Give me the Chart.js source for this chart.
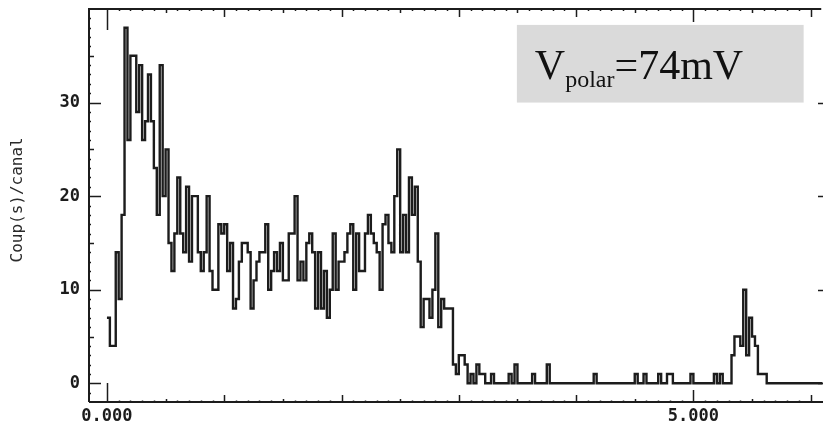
<!DOCTYPE html>
<html>
<head>
<meta charset="utf-8">
<script src="https://cdn.jsdelivr.net/npm/chart.js@4.4.1/dist/chart.umd.min.js"></script>
<style>
  html, body { margin: 0; padding: 0; background: #fff; }
  #wrap { width: 823px; height: 425px; }
</style>
</head>
<body>
<div id="wrap"><canvas id="chart" width="823" height="425"></canvas></div>
<script>
// spectrum: counts per channel, channel width
const channelStart = 0.0;
const channelWidth = 0.025;
const counts = [
    7, 4, 4, 14, 9, 18, 38, 26, 35, 35, 29, 34, 26, 28, 33, 28, 23, 18, 34, 20,
    25, 15, 12, 16, 22, 16, 14, 21, 13, 20, 20, 14, 12, 14, 20, 12, 10, 10, 17, 16,
    17, 12, 15, 8, 9, 13, 15, 15, 14, 8, 11, 13, 14, 14, 17, 10, 12, 14, 12, 15,
    11, 11, 16, 16, 20, 11, 13, 11, 15, 16, 14, 8, 14, 8, 12, 7, 10, 16, 10, 13,
    13, 14, 16, 17, 10, 16, 12, 12, 16, 18, 16, 15, 14, 10, 17, 18, 15, 14, 20, 25,
    14, 18, 14, 22, 18, 21, 13, 6, 9, 9, 7, 10, 16, 6, 9, 8, 8, 8, 2, 1,
    3, 3, 2, 0, 1, 0, 2, 1, 1, 0, 0, 1, 0, 0, 0, 0, 0, 1, 0, 2,
    0, 0, 0, 0, 0, 1, 0, 0, 0, 0, 2, 0, 0, 0, 0, 0, 0, 0, 0, 0,
    0, 0, 0, 0, 0, 0, 1, 0, 0, 0, 0, 0, 0, 0, 0, 0, 0, 0, 0, 0,
    1, 0, 0, 1, 0, 0, 0, 0, 1, 0, 0, 1, 1, 0, 0, 0, 0, 0, 0, 1,
    0, 0, 0, 0, 0, 0, 0, 1, 0, 1, 0, 0, 0, 3, 5, 5, 4, 10, 3, 7,
    5, 4, 1, 1, 1, 0, 0, 0, 0, 0, 0, 0, 0, 0, 0, 0, 0, 0, 0, 0,
    0, 0, 0, 0
];
const xTicks = [0, 5];
const yTicks = [0, 10, 20, 30];
const yTitle = 'Coup(s)/canal';
const noteMain = 'V';
const noteSub = 'polar';
const noteRest = '=74mV';

const points = counts.map((c, i) => ({ x: channelStart + i * channelWidth, y: c }));
points.push({ x: channelStart + counts.length * channelWidth, y: counts[counts.length - 1] });

const ink = '#1c1c1c';
const tickFont = { family: 'DejaVu Sans Mono', size: 17, weight: 'bold' };

// frame with inward ticks, drawn like the old plotter output
const frameTicks = {
    id: 'frameTicks',
    afterDatasetsDraw(chart) {
        const { ctx, chartArea: a, scales: { x, y } } = chart;
        ctx.save();
        ctx.strokeStyle = ink;
        ctx.lineWidth = 2;
        ctx.beginPath();
        ctx.moveTo(a.left, a.bottom);
        ctx.lineTo(a.left, a.top);
        ctx.lineTo(x.getPixelForValue(6.09), a.top);
        ctx.moveTo(a.left, a.bottom);
        ctx.lineTo(a.right, a.bottom);
        ctx.stroke();

        ctx.lineWidth = 1.5;
        ctx.beginPath();
        for (let k = 0; k <= 60; k++) {
            const px = Math.round(x.getPixelForValue(k / 10)) + 0.5;
            let lb = 1.5, lt = 2;
            if (k % 10 === 0) {
                lb = 7; lt = 8;
                if (k === 0) { lb = 19; lt = 21; }
                if (k === 50) { lb = 12; lt = 13; }
            } else if (k % 5 === 0) {
                lb = 3; lt = 4;
            }
            ctx.moveTo(px, a.bottom);
            ctx.lineTo(px, a.bottom - lb);
            ctx.moveTo(px, a.top);
            ctx.lineTo(px, a.top + lt);
        }
        for (let v = -1; v <= 39; v++) {
            const py = Math.round(y.getPixelForValue(v)) + 0.5;
            let len = 2;
            if (v % 10 === 0) len = 12;
            else if (v % 5 === 0) len = 5;
            ctx.moveTo(a.left, py);
            ctx.lineTo(a.left + len, py);
            if (v % 10 === 0) {
                ctx.moveTo(a.right, py);
                ctx.lineTo(a.right - 5, py);
            }
        }
        ctx.stroke();

        // rotated axis title, centred a bit above the middle like the scan
        ctx.translate(18, y.getPixelForValue(19.6));
        ctx.rotate(-Math.PI / 2);
        ctx.fillStyle = '#2a2a2a';
        ctx.font = '16px "DejaVu Sans Mono"';
        ctx.textAlign = 'center';
        ctx.textBaseline = 'middle';
        ctx.fillText(yTitle, 0, 0);
        ctx.restore();
    }
};

// grey label box in the upper right
const noteBox = {
    id: 'noteBox',
    beforeDatasetsDraw(chart) {
        const { ctx, scales: { x, y } } = chart;
        const left = x.getPixelForValue(3.495);
        const right = x.getPixelForValue(5.94);
        const top = y.getPixelForValue(38.3);
        const bottom = y.getPixelForValue(30.0);
        ctx.save();
        ctx.fillStyle = '#dadada';
        ctx.fillRect(left, top, right - left, bottom - top);
        ctx.fillStyle = '#111';
        ctx.textBaseline = 'alphabetic';
        ctx.textAlign = 'left';
        let tx = left + 18;
        const base = top + 54;
        ctx.font = '42px "Liberation Serif"';
        ctx.fillText(noteMain, tx, base);
        tx += ctx.measureText(noteMain).width;
        ctx.font = '24px "Liberation Serif"';
        ctx.fillText(noteSub, tx, base + 8);
        tx += ctx.measureText(noteSub).width;
        ctx.font = '42px "Liberation Serif"';
        ctx.fillText(noteRest, tx, base);
        ctx.restore();
    }
};

new Chart(document.getElementById('chart'), {
    type: 'line',
    data: {
        datasets: [{
            data: points,
            stepped: true,
            borderColor: ink,
            borderWidth: 2.4,
            pointRadius: 0,
            fill: false
        }]
    },
    options: {
        responsive: false,
        animation: false,
        layout: { autoPadding: false, padding: { top: 9, right: 0, left: 0, bottom: 0 } },
        plugins: {
            legend: { display: false },
            tooltip: { enabled: false }
        },
        scales: {
            x: {
                type: 'linear',
                min: -0.153,
                max: 6.105,
                afterFit: (s) => { s.height = 23; s.paddingLeft = 0; s.paddingRight = 0; },
                afterBuildTicks: (s) => { s.ticks = xTicks.map(v => ({ value: v })); },
                grid: { display: false, drawTicks: false },
                border: { display: false },
                ticks: {
                    callback: (value) => Number(value).toFixed(3),
                    font: tickFont,
                    color: ink,
                    padding: 4,
                    maxRotation: 0,
                    autoSkip: false
                }
            },
            y: {
                min: -2,
                max: 40,
                afterFit: (s) => { s.width = 89; s.paddingTop = 0; s.paddingBottom = 0; },
                afterBuildTicks: (s) => { s.ticks = yTicks.map(v => ({ value: v })); },
                grid: { display: false, drawTicks: false },
                border: { display: false },
                ticks: {
                    font: tickFont,
                    color: ink,
                    padding: 9
                }
            }
        }
    },
    plugins: [frameTicks, noteBox]
});
</script>
</body>
</html>
